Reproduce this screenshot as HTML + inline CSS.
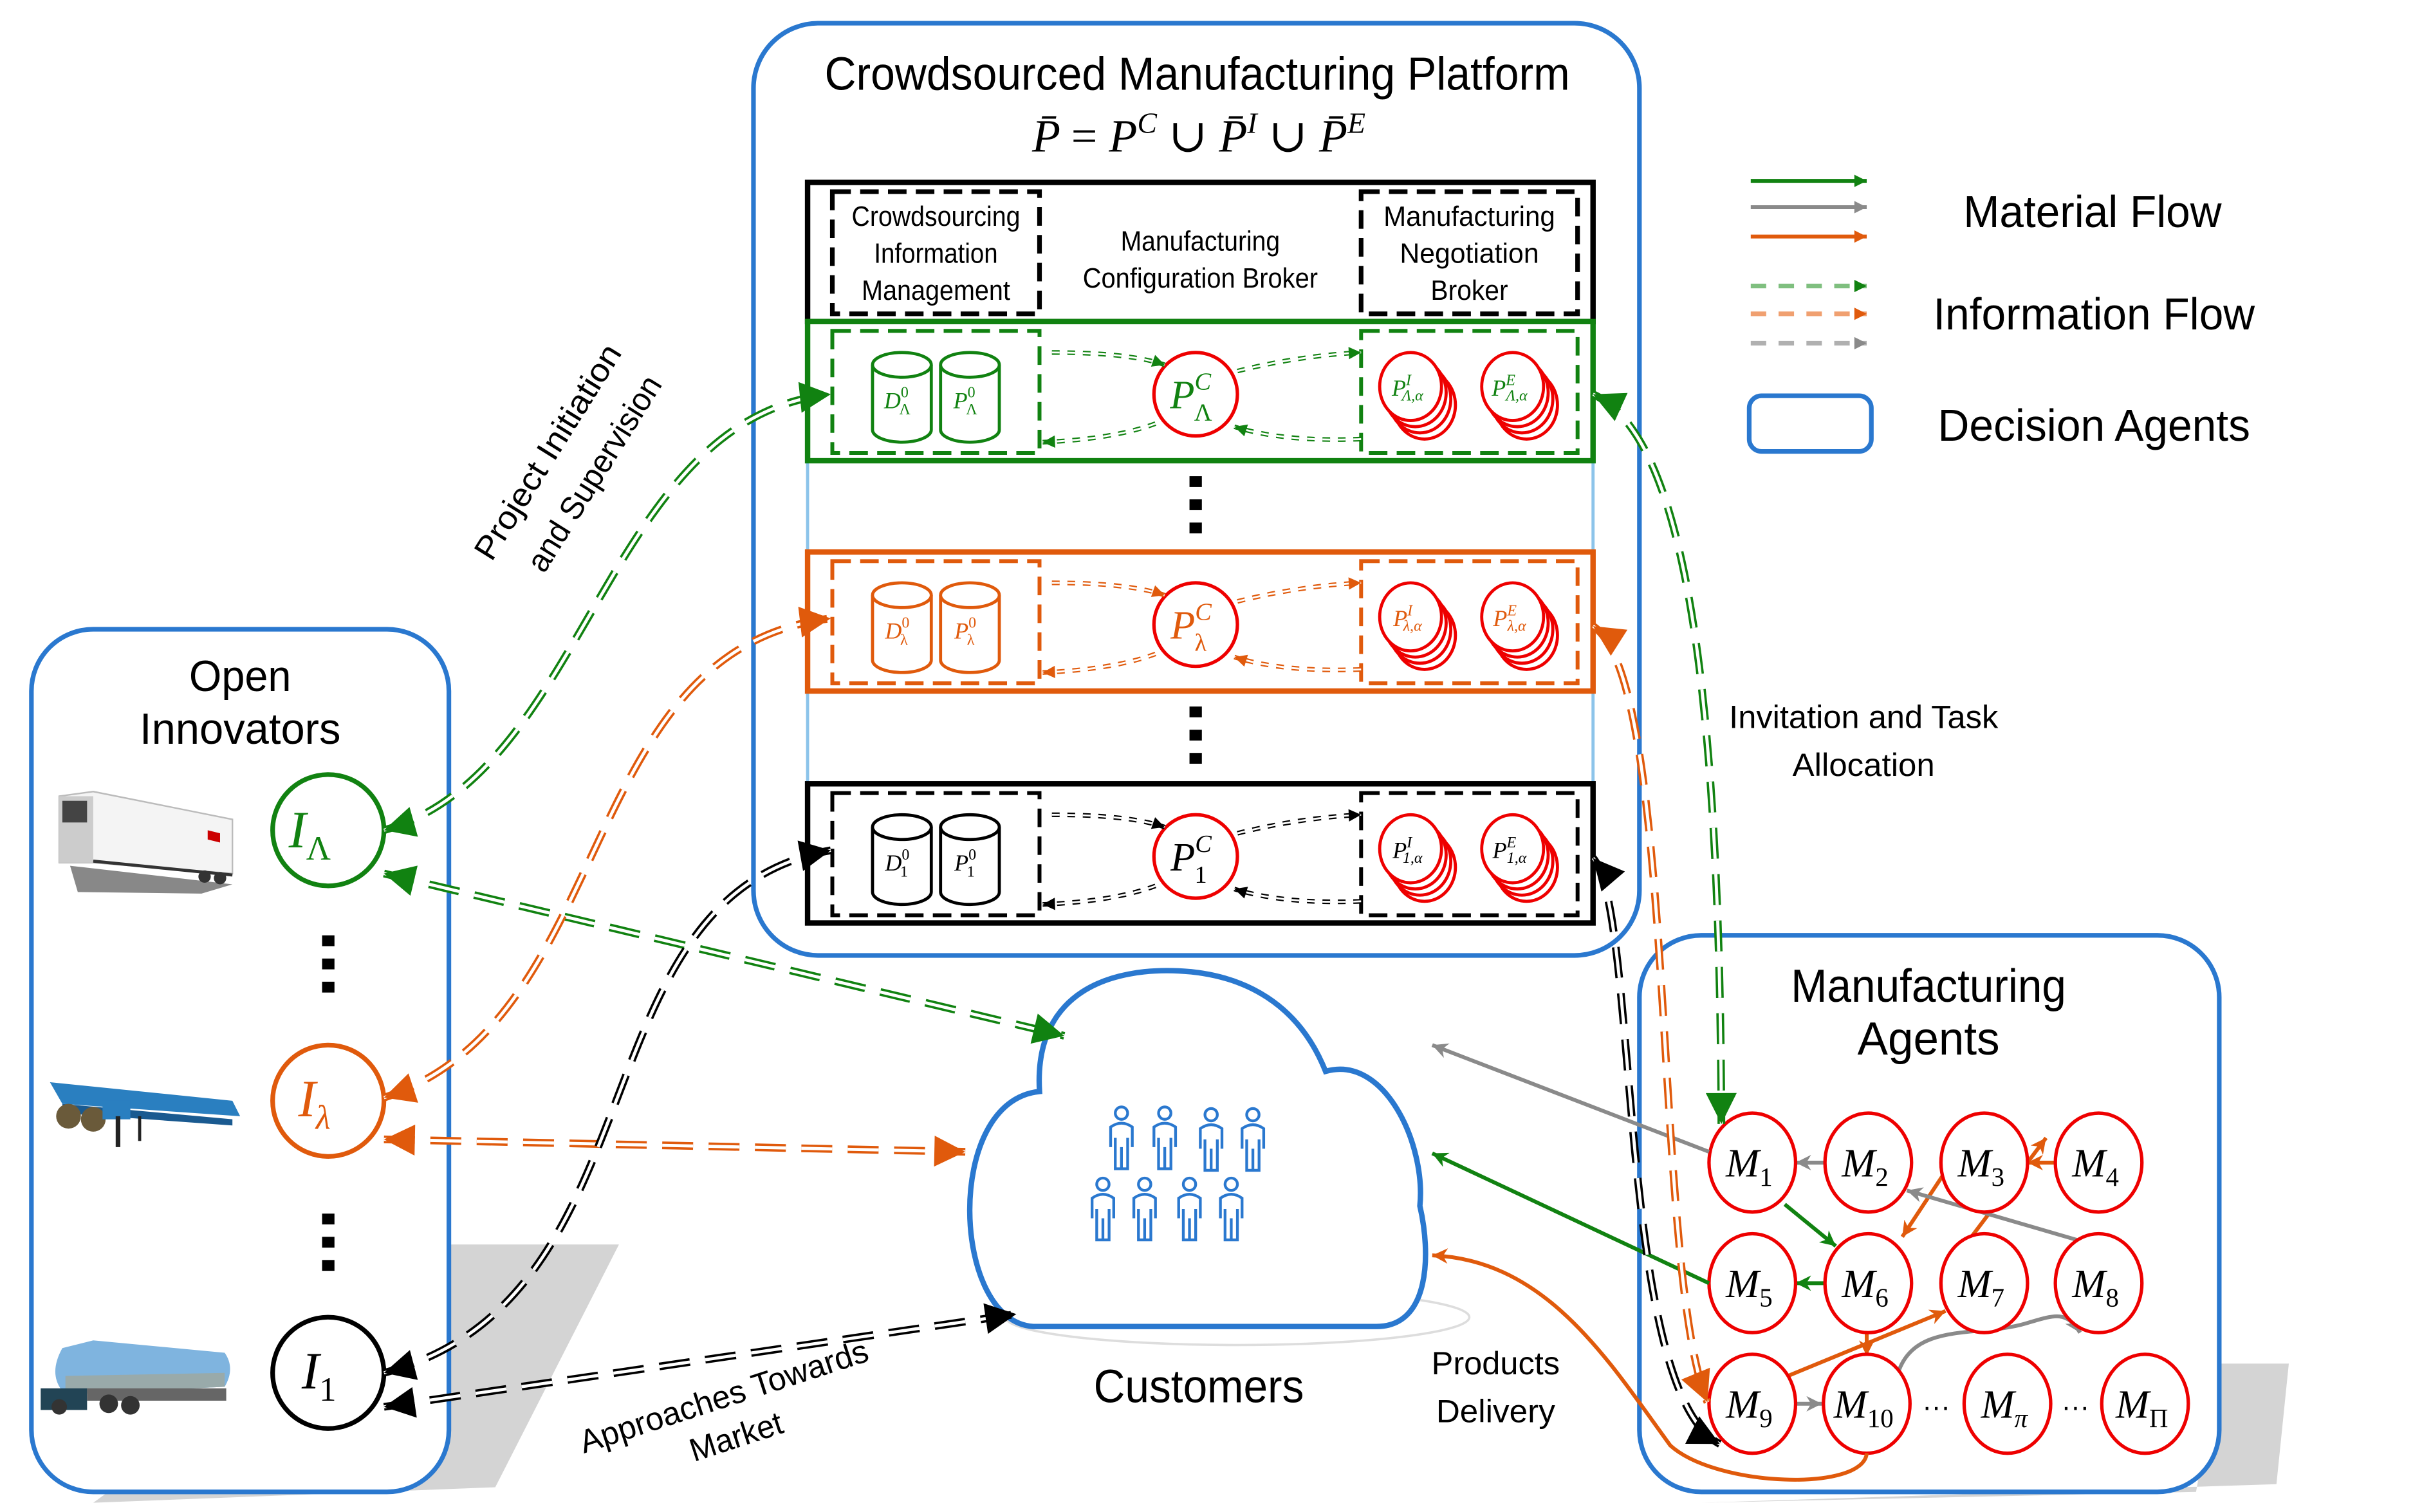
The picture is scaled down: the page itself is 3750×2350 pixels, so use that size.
<!DOCTYPE html>
<html><head><meta charset="utf-8">
<style>
html,body{margin:0;padding:0;background:#fff;}
svg{display:block;}
.n{font-family:"Liberation Sans Narrow","Liberation Sans",sans-serif;}
.m{font-family:"Liberation Serif","DejaVu Serif",serif;font-style:italic;}
</style></head>
<body>
<svg id="s" width="3750" height="2350" viewBox="0 0 1560 978" xmlns="http://www.w3.org/2000/svg">
<defs>
<marker id="ag" viewBox="0 0 10 10" refX="10" refY="5" markerUnits="userSpaceOnUse" markerWidth="24" markerHeight="20" orient="auto-start-reverse"><path d="M0,0L10,5L0,10Z" fill="#118211"/></marker>
<marker id="ao" viewBox="0 0 10 10" refX="10" refY="5" markerUnits="userSpaceOnUse" markerWidth="24" markerHeight="20" orient="auto-start-reverse"><path d="M0,0L10,5L0,10Z" fill="#e05a0c"/></marker>
<marker id="ak" viewBox="0 0 10 10" refX="10" refY="5" markerUnits="userSpaceOnUse" markerWidth="24" markerHeight="20" orient="auto-start-reverse"><path d="M0,0L10,5L0,10Z" fill="#000"/></marker>
<marker id="sg" viewBox="0 0 10 10" refX="10" refY="5" markerUnits="userSpaceOnUse" markerWidth="10" markerHeight="10" orient="auto"><path d="M0,0L10,5L0,10L3,5Z" fill="#118211"/></marker>
<marker id="so" viewBox="0 0 10 10" refX="10" refY="5" markerUnits="userSpaceOnUse" markerWidth="10" markerHeight="10" orient="auto"><path d="M0,0L10,5L0,10L3,5Z" fill="#e05a0c"/></marker>
<marker id="sy" viewBox="0 0 10 10" refX="10" refY="5" markerUnits="userSpaceOnUse" markerWidth="10" markerHeight="10" orient="auto"><path d="M0,0L10,5L0,10L3,5Z" fill="#8a8a8a"/></marker>
<marker id="tg" viewBox="0 0 10 10" refX="10" refY="5" markerUnits="userSpaceOnUse" markerWidth="9" markerHeight="8" orient="auto"><path d="M0,0L10,5L0,10Z" fill="#118211"/></marker>
<marker id="to" viewBox="0 0 10 10" refX="10" refY="5" markerUnits="userSpaceOnUse" markerWidth="9" markerHeight="8" orient="auto"><path d="M0,0L10,5L0,10Z" fill="#e05a0c"/></marker>
<marker id="tk" viewBox="0 0 10 10" refX="10" refY="5" markerUnits="userSpaceOnUse" markerWidth="9" markerHeight="8" orient="auto"><path d="M0,0L10,5L0,10Z" fill="#000"/></marker>
<marker id="ty" viewBox="0 0 10 10" refX="10" refY="5" markerUnits="userSpaceOnUse" markerWidth="9" markerHeight="8" orient="auto"><path d="M0,0L10,5L0,10Z" fill="#8a8a8a"/></marker>
</defs>

<path d="M290,805 L400,805 L320,962 L60,972 Z" fill="#d4d4d4"/>
<path d="M1435,882 L1480,882 L1472,960 L1100,972 L1420,965 Z" fill="#d4d4d4"/>
<ellipse cx="800" cy="852" rx="150" ry="18" fill="none" stroke="#ddd" stroke-width="1.5"/>

<rect x="487" y="15" width="573" height="603" rx="42" fill="#fff" stroke="#2a78cf" stroke-width="3"/>
<rect x="20" y="407" width="270" height="558" rx="40" fill="#fff" stroke="#2a78cf" stroke-width="3"/>
<rect x="1060" y="605" width="375" height="360" rx="40" fill="#fff" stroke="#2a78cf" stroke-width="3"/>

<text class="n" x="774" y="58" font-size="30" text-anchor="middle" textLength="482" lengthAdjust="spacingAndGlyphs">Crowdsourced Manufacturing Platform</text>
<text class="m" x="775" y="98" font-size="30" text-anchor="middle">P̄ <tspan font-style="normal">=</tspan> P<tspan font-size="19" dy="-12">C</tspan><tspan dy="12" font-style="normal"> ∪ </tspan>P̄<tspan font-size="19" dy="-12">I</tspan><tspan dy="12" font-style="normal"> ∪ </tspan>P̄<tspan font-size="19" dy="-12">E</tspan></text>

<line x1="522" y1="298" x2="522" y2="507" stroke="#8cc4ea" stroke-width="2"/>
<line x1="1030" y1="298" x2="1030" y2="507" stroke="#8cc4ea" stroke-width="2"/>
<rect x="522" y="118" width="508" height="90" fill="#fff" stroke="#000" stroke-width="3.5"/>
<rect x="538" y="124" width="134" height="79" fill="none" stroke="#000" stroke-width="3" stroke-dasharray="12,6"/>
<rect x="880" y="124" width="140" height="79" fill="none" stroke="#000" stroke-width="3" stroke-dasharray="12,6"/>
<g class="n" font-size="18" text-anchor="middle">
<text x="605" y="146" textLength="109" lengthAdjust="spacingAndGlyphs">Crowdsourcing</text>
<text x="605" y="170" textLength="80" lengthAdjust="spacingAndGlyphs">Information</text>
<text x="605" y="194" textLength="96" lengthAdjust="spacingAndGlyphs">Management</text>
<text x="776" y="162" textLength="103" lengthAdjust="spacingAndGlyphs">Manufacturing</text>
<text x="776" y="186" textLength="152" lengthAdjust="spacingAndGlyphs">Configuration Broker</text>
<text x="950" y="146" textLength="111" lengthAdjust="spacingAndGlyphs">Manufacturing</text>
<text x="950" y="170" textLength="90" lengthAdjust="spacingAndGlyphs">Negotiation</text>
<text x="950" y="194" textLength="50" lengthAdjust="spacingAndGlyphs">Broker</text>
</g>
<g id="rows"></g>
<g fill="#000">
<rect x="769" y="308" width="8" height="7"/><rect x="769" y="323" width="8" height="7"/><rect x="769" y="338" width="8" height="7"/>
<rect x="769" y="457" width="8" height="7"/><rect x="769" y="472" width="8" height="7"/><rect x="769" y="487" width="8" height="7"/>
<rect x="208" y="605" width="8" height="7"/><rect x="208" y="620" width="8" height="7"/><rect x="208" y="635" width="8" height="7"/>
<rect x="208" y="785" width="8" height="7"/><rect x="208" y="800" width="8" height="7"/><rect x="208" y="815" width="8" height="7"/>
</g>

<text class="n" x="155" y="447" font-size="28" text-anchor="middle" textLength="66" lengthAdjust="spacingAndGlyphs">Open</text>
<text class="n" x="155" y="481" font-size="28" text-anchor="middle" textLength="130" lengthAdjust="spacingAndGlyphs">Innovators</text>
<circle cx="212" cy="537" r="36" fill="#fff" stroke="#118211" stroke-width="3"/>
<text class="m" x="200" y="548" font-size="34" fill="#118211" text-anchor="middle">I<tspan font-size="22" dy="8" font-style="normal">Λ</tspan></text>
<circle cx="212" cy="712" r="36" fill="#fff" stroke="#e05a0c" stroke-width="3"/>
<text class="m" x="203" y="722" font-size="34" fill="#e05a0c" text-anchor="middle">I<tspan font-size="22" dy="8">λ</tspan></text>
<circle cx="212" cy="888" r="36" fill="#fff" stroke="#000" stroke-width="3"/>
<text class="m" x="206" y="898" font-size="34" fill="#000" text-anchor="middle">I<tspan font-size="22" dy="8" font-style="normal">1</tspan></text>

<g>
<path d="M45,560 L150,572 L130,578 L50,577Z" fill="#555" opacity="0.7"/>
<path d="M38,515 L60,512 L150,530 L150,565 L60,558 L38,558Z" fill="#f4f4f4" stroke="#bbb" stroke-width="1"/>
<rect x="38" y="515" width="22" height="43" fill="#ccc"/><rect x="40" y="518" width="16" height="14" fill="#444"/>
<line x1="60" y1="557" x2="150" y2="566" stroke="#333" stroke-width="2"/>
<circle cx="132" cy="567" r="4" fill="#333"/><circle cx="142" cy="568" r="4" fill="#333"/>
<path d="M134,537 l8,2 l0,6 l-8,-2z" fill="#c00"/>
</g>
<g>
<path d="M32,700 L150,712 L155,722 L40,714Z" fill="#2a7fc0"/>
<path d="M40,714 L150,724 L150,728 L40,720Z" fill="#1a5a90"/>
<circle cx="44" cy="722" r="8" fill="#6a5a3a"/><circle cx="60" cy="724" r="8" fill="#6a5a3a"/>
<rect x="66" y="712" width="18" height="12" fill="#2a7fc0"/>
<line x1="76" y1="722" x2="76" y2="742" stroke="#222" stroke-width="3"/>
<line x1="90" y1="722" x2="90" y2="738" stroke="#222" stroke-width="2"/>
</g>
<g>
<path d="M40,872 Q30,890 42,902 L145,897 Q152,885 145,875 L60,867Z" fill="#7fb4df"/>
<path d="M42,890 L145,888 L145,897 L42,902Z" fill="#9aa"/>
<rect x="26" y="898" width="30" height="14" fill="#245"/>
<rect x="56" y="898" width="90" height="8" fill="#666"/>
<circle cx="70" cy="908" r="6" fill="#333"/><circle cx="84" cy="909" r="6" fill="#333"/><circle cx="38" cy="910" r="5" fill="#333"/>
</g>

<path d="M668,858 C615,855 610,712 672,706 C668,640 720,626 762,628 C805,630 840,650 857,693 C895,682 922,740 918,780 C925,810 925,858 890,858 Z" fill="#fff" stroke="#2a78cf" stroke-width="3.5"/>
<g id="people" fill="none" stroke="#2a78cf" stroke-width="1.8"></g>
<text class="n" x="775" y="907" font-size="30" text-anchor="middle" textLength="136" lengthAdjust="spacingAndGlyphs">Customers</text>

<text class="n" x="1247" y="648" font-size="30" text-anchor="middle" textLength="178" lengthAdjust="spacingAndGlyphs">Manufacturing</text>
<text class="n" x="1247" y="682" font-size="30" text-anchor="middle" textLength="92" lengthAdjust="spacingAndGlyphs">Agents</text>
<g id="medges"></g>
<g id="mnodes"></g>
<text x="1252" y="916" font-size="18" font-family="Liberation Sans,sans-serif" text-anchor="middle">···</text>
<text x="1342" y="916" font-size="18" font-family="Liberation Sans,sans-serif" text-anchor="middle">···</text>

<g stroke-width="2.5">
<line x1="1132" y1="117" x2="1207" y2="117" stroke="#118211" marker-end="url(#tg)"/>
<line x1="1132" y1="134" x2="1207" y2="134" stroke="#8a8a8a" marker-end="url(#ty)"/>
<line x1="1132" y1="153" x2="1207" y2="153" stroke="#e05a0c" marker-end="url(#to)"/>
<line x1="1132" y1="185" x2="1207" y2="185" stroke="#7fbf7f" stroke-dasharray="10,8" stroke-width="3" marker-end="url(#tg)"/>
<line x1="1132" y1="203" x2="1207" y2="203" stroke="#f0a070" stroke-dasharray="10,8" stroke-width="3" marker-end="url(#to)"/>
<line x1="1132" y1="222" x2="1207" y2="222" stroke="#b0b0b0" stroke-dasharray="10,8" stroke-width="3" marker-end="url(#ty)"/>
</g>
<rect x="1131" y="256" width="79" height="36" rx="8" fill="none" stroke="#2a78cf" stroke-width="3"/>
<g class="n" font-size="29" text-anchor="middle">
<text x="1353" y="147" textLength="167" lengthAdjust="spacingAndGlyphs">Material Flow</text>
<text x="1354" y="213" textLength="208" lengthAdjust="spacingAndGlyphs">Information Flow</text>
<text x="1354" y="285" textLength="202" lengthAdjust="spacingAndGlyphs">Decision Agents</text>
</g>

<g class="n" font-size="21" text-anchor="middle">
<text transform="translate(360,296) rotate(-58)" textLength="160" lengthAdjust="spacingAndGlyphs">Project Initiation</text>
<text transform="translate(390,310) rotate(-58)" textLength="145" lengthAdjust="spacingAndGlyphs">and Supervision</text>
<text x="1205" y="471" textLength="174" lengthAdjust="spacingAndGlyphs">Invitation and Task</text>
<text x="1205" y="502" textLength="92" lengthAdjust="spacingAndGlyphs">Allocation</text>
<text x="967" y="889" textLength="83" lengthAdjust="spacingAndGlyphs">Products</text>
<text x="967" y="920" textLength="77" lengthAdjust="spacingAndGlyphs">Delivery</text>
<text transform="translate(470,910) rotate(-18)" textLength="195" lengthAdjust="spacingAndGlyphs">Approaches Towards</text>
<text transform="translate(478,936) rotate(-18)" textLength="62" lengthAdjust="spacingAndGlyphs">Market</text>
</g>
<g id="conn"></g>
</svg>
<script>
var NS="http://www.w3.org/2000/svg";
function el(p,t,a){var e=document.createElementNS(NS,t);for(var k in a)e.setAttribute(k,a[k]);p.appendChild(e);return e;}
var C={g:"#118211",o:"#e05a0c",k:"#000",y:"#8a8a8a"};
function dbl(p,d,c,dash,w,both,mk){
  el(p,"path",{d:d,fill:"none",stroke:C[c],"stroke-width":w,"stroke-dasharray":dash});
  el(p,"path",{d:d,fill:"none",stroke:"#fff","stroke-width":w*0.4,"stroke-dasharray":dash});
  var a={d:d,fill:"none",stroke:"none"};a["marker-end"]="url(#"+mk+c+")";if(both)a["marker-start"]="url(#"+mk+c+")";
  el(p,"path",a);
}
var rows=document.getElementById("rows");
var R=[[208,"g","#118211","Λ"],[357,"o","#e05a0c","λ"],[507,"k","#000","1"]];
R.forEach(function(r){
  var y=r[0],c=r[2],s=r[3];
  el(rows,"rect",{x:522,y:y,width:508,height:90,fill:"#fff",stroke:c,"stroke-width":3.5});
  el(rows,"rect",{x:538,y:y+6,width:134,height:79,fill:"none",stroke:c,"stroke-width":2.5,"stroke-dasharray":"12,6"});
  el(rows,"rect",{x:880,y:y+6,width:140,height:79,fill:"none",stroke:c,"stroke-width":2.5,"stroke-dasharray":"12,6"});
  [583,627].forEach(function(x,i){
    var t=y+28,b=y+78;
    el(rows,"path",{d:"M"+(x-19)+","+t+" L"+(x-19)+","+(b-8)+" A19,8 0 0 0 "+(x+19)+","+(b-8)+" L"+(x+19)+","+t,fill:"#fff",stroke:c,"stroke-width":2});
    el(rows,"ellipse",{cx:x,cy:t,rx:19,ry:8,fill:"#fff",stroke:c,"stroke-width":2});
    var tx=el(rows,"text",{x:x-3,y:y+56,"font-size":15,fill:c,"text-anchor":"middle","class":"m"});
    tx.innerHTML=(i==0?"D":"P")+'<tspan font-size="10" dy="-7" font-style="normal">0</tspan><tspan font-size="10" dx="-6" dy="11" font-style="normal">'+s+'</tspan>';
  });
  el(rows,"circle",{cx:773,cy:y+47,r:27,fill:"#fff",stroke:"#e00","stroke-width":2.2});
  var t=el(rows,"text",{x:770,y:y+56,"font-size":26,fill:c,"text-anchor":"middle","class":"m"});
  t.innerHTML='P<tspan font-size="16" dy="-12">C</tspan><tspan font-size="16" dx="-11" dy="20" font-style="normal">'+s+'</tspan>';
  [[912,"I"],[978,"E"]].forEach(function(q){
    for(var k=3;k>=0;k--){el(rows,"ellipse",{cx:q[0]+k*3,cy:y+42+k*4,rx:20,ry:22,fill:"#fff",stroke:"#e00","stroke-width":2});}
    var u=el(rows,"text",{x:q[0]-2,y:y+48,"font-size":15,fill:c,"text-anchor":"middle","class":"m"});
    u.innerHTML='P<tspan font-size="10" dy="-7">'+q[1]+'</tspan><tspan font-size="10" dx="-6" dy="10">'+s+',α</tspan>';
  });
  var cc=r[1],dd="5,5";
  dbl(rows,"M680,"+(y+20)+" Q730,"+(y+20)+" 753,"+(y+28),cc,dd,3,false,"t");
  dbl(rows,"M800,"+(y+32)+" Q840,"+(y+22)+" 880,"+(y+20),cc,dd,3,false,"t");
  dbl(rows,"M880,"+(y+76)+" Q830,"+(y+78)+" 798,"+(y+68),cc,dd,3,false,"t");
  dbl(rows,"M747,"+(y+66)+" Q720,"+(y+76)+" 674,"+(y+78),cc,dd,3,false,"t");
});
var pp=document.getElementById("people");
function person(x,y){
  el(pp,"circle",{cx:x,cy:y,r:4});
  el(pp,"path",{d:"M"+(x-7)+","+(y+22)+" L"+(x-7)+","+(y+9)+" Q"+x+","+(y+4)+" "+(x+7)+","+(y+9)+" L"+(x+7)+","+(y+22)+" M"+(x-4)+","+(y+16)+" L"+(x-4)+","+(y+36)+" L"+(x+4)+","+(y+36)+" L"+(x+4)+","+(y+16)+" M"+x+","+(y+22)+" L"+x+","+(y+36)});
}
[[725,720],[753,720],[783,721],[810,721],[713,766],[740,766],[769,766],[796,766]].forEach(function(a){person(a[0],a[1]);});
var mn=document.getElementById("mnodes"),me=document.getElementById("medges");
var N={1:[1133,752],2:[1208,752],3:[1283,752],4:[1357,752],5:[1133,830],6:[1208,830],7:[1283,830],8:[1357,830],9:[1133,908],10:[1207,908],p:[1298,908],P:[1387,908]};
var L={1:"1",2:"2",3:"3",4:"4",5:"5",6:"6",7:"7",8:"8",9:"9",10:"10",p:"π",P:"Π"};
for(var k in N){var q=N[k];
  el(mn,"ellipse",{cx:q[0],cy:q[1],rx:28,ry:32,fill:"#fff",stroke:"#e00","stroke-width":2.2});
  var t=el(mn,"text",{x:q[0]-2,y:q[1]+9,"font-size":26,"text-anchor":"middle","class":"m"});
  t.innerHTML='M<tspan font-size="17" dy="6" font-style="'+(k=="p"?"italic":"normal")+'">'+L[k]+'</tspan>';
}
function se(d,c){el(me,"path",{d:d,fill:"none",stroke:C[c],"stroke-width":2.5,"marker-end":"url(#s"+c+")"});}
se("M1180,752 L1161,752","y");
se("M1329,752 L1311,752","o");
se("M1154,779 L1187,806","g");
se("M1265,747 L1230,800","o");
se("M1274,801 L1323,736","o");
se("M1343,802 L1233,770","y");
se("M1180,830 L1161,830","g");
se("M1207,862 L1207,877","o");
se("M1156,890 L1258,848","o");
se("M1161,908 L1178,908","y");
se("M1228,886 C1240,855 1280,865 1310,856 C1330,850 1336,848 1345,862","y");
var cn=document.getElementById("conn");
el(cn,"path",{d:"M1105,745 L926,676",fill:"none",stroke:C.y,"stroke-width":2.5,"marker-end":"url(#sy)"});
el(cn,"path",{d:"M1105,830 L926,746",fill:"none",stroke:C.g,"stroke-width":2.5,"marker-end":"url(#sg)"});
el(cn,"path",{d:"M1207,940 C1205,965 1110,962 1080,935 C1040,880 1000,815 926,812",fill:"none",stroke:C.o,"stroke-width":2.5,"marker-end":"url(#so)"});
var D="20,10";
dbl(cn,"M248,537 C380,500 390,270 537,255","g",D,5,true,"a");
dbl(cn,"M248,565 L688,670","g",D,5,true,"a");
dbl(cn,"M248,710 C400,660 370,420 537,400","o",D,5,true,"a");
dbl(cn,"M248,737 L624,745","o",D,5,true,"a");
dbl(cn,"M248,888 C430,840 370,580 537,550","k",D,5,true,"a");
dbl(cn,"M248,910 L657,850","k",D,5,true,"a");
dbl(cn,"M1030,255 C1085,280 1112,420 1113,727","g",D,5,true,"a");
dbl(cn,"M1030,405 C1085,440 1068,820 1104,907","o",D,5,true,"a");
dbl(cn,"M1030,555 C1060,590 1045,900 1112,934","k",D,5,true,"a");
</script>
</body></html>
